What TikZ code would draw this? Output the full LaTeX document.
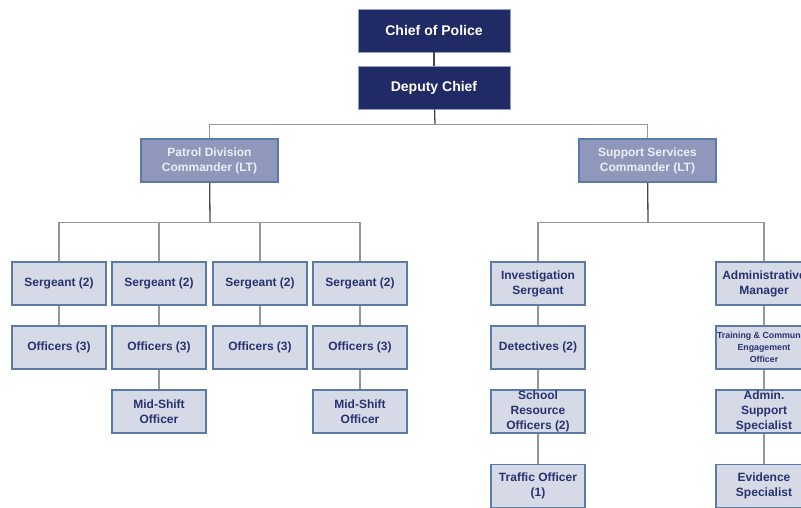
\documentclass[tikz,border=0pt]{standalone}
\usepackage{fontspec}
\setmainfont{Liberation Sans}
\definecolor{chiefblue}{RGB}{32,43,102}
\definecolor{chiefedge}{RGB}{140,160,200}
\definecolor{cmdfill}{RGB}{143,152,186}
\definecolor{cmdtext}{RGB}{236,238,245}
\definecolor{boxfill}{RGB}{214,218,230}
\definecolor{boxedge}{RGB}{90,122,168}
\definecolor{boxtext}{RGB}{40,50,112}
\definecolor{barline}{RGB}{150,150,150}
\definecolor{stemline}{RGB}{70,70,70}

\begin{document}
\begin{tikzpicture}[x=1pt,y=-1pt,
    chief/.style={draw=chiefedge, line width=0.8pt, fill=chiefblue, text=white,
        minimum width=152pt, minimum height=43pt, inner sep=0pt,
        font=\bfseries\fontsize{14}{17}\selectfont},
    cmd/.style={draw=boxedge, line width=1.2pt, fill=cmdfill, text=cmdtext,
        minimum width=137pt, minimum height=43pt, inner sep=0pt, align=center,
        font=\bfseries\fontsize{12}{15}\selectfont},
    post/.style={draw=boxedge, line width=1.5pt, fill=boxfill, text=boxtext,
        minimum width=94pt, minimum height=43pt, inner sep=0pt, align=center,
        font=\bfseries\fontsize{12}{15}\selectfont},
    bar/.style={draw=barline, line width=1.3pt},
    stem/.style={draw=stemline, line width=1.3pt}]
    \useasboundingbox (0,0) rectangle (801,508);
    \clip (0,0) rectangle (801,508);
    % top of the chart
    \node [chief] (chief) at (434,30.5) {Chief of Police};
    \node [chief] (deputy) at (434,87.5) {Deputy Chief};
    \node [cmd] (patrol) at (209.5,160.5) {Patrol Division\\Commander (LT)};
    \node [cmd] (support) at (647.5,160.5) {Support Services\\Commander (LT)};
    \coordinate (topbar) at (435,124.5);
    \draw [stem] (chief) -- (deputy);
    \draw [stem] (deputy) -- (topbar);
    \draw [bar] (patrol.north) |- (topbar) -| (support.north);
    % patrol division
    \foreach \x/\n in {59/1,159/2,260/3,360/4} {
        \node [post] (sgt\n) at (\x,283.5) {Sergeant (2)};
        \node [post] (off\n) at (\x,347.5) {Officers (3)};
        \draw [bar] (sgt\n) -- (off\n);
    }
    \node [post] (mid2) at (159,411.5) {Mid-Shift\\Officer};
    \node [post] (mid4) at (360,411.5) {Mid-Shift\\Officer};
    \draw [bar] (off2) -- (mid2);
    \draw [bar] (off4) -- (mid4);
    \coordinate (patbar) at (210,222.5);
    \draw [stem] (patrol) -- (patbar);
    \draw [bar] (sgt1.north) |- (patbar) -| (sgt4.north);
    \draw [bar] (sgt2.north) -- (sgt2.north |- patbar);
    \draw [bar] (sgt3.north) -- (sgt3.north |- patbar);
    % support services
    \node [post] (invsgt) at (538,283.5) {Investigation\\Sergeant};
    \node [post] (detect) at (538,347.5) {Detectives (2)};
    \node [post] (sro) at (538,411.5) {School\\Resource\\Officers (2)};
    \node [post] (traffic) at (538,486) {Traffic Officer\\(1)};
    \node [post, minimum width=96pt] (admin) at (764,283.5) {Administrative\\Manager};
    \node [post, minimum width=96pt, font=\bfseries\fontsize{8.8}{12}\selectfont] (train) at (764,347.5) {Training \& Community\\Engagement\\Officer};
    \node [post, minimum width=96pt] (adminsup) at (764,411.5) {Admin.\\Support\\Specialist};
    \node [post, minimum width=96pt] (evid) at (764,486) {Evidence\\Specialist};
    \draw [bar] (invsgt) -- (detect);
    \draw [bar] (detect) -- (sro);
    \draw [bar] (sro) -- (traffic);
    \draw [bar] (admin) -- (train);
    \draw [bar] (train) -- (adminsup);
    \draw [bar] (adminsup) -- (evid);
    \coordinate (supbar) at (648,222.5);
    \draw [stem] (support) -- (supbar);
    \draw [bar] (invsgt.north) |- (supbar) -| (admin.north);
\end{tikzpicture}
\end{document}
